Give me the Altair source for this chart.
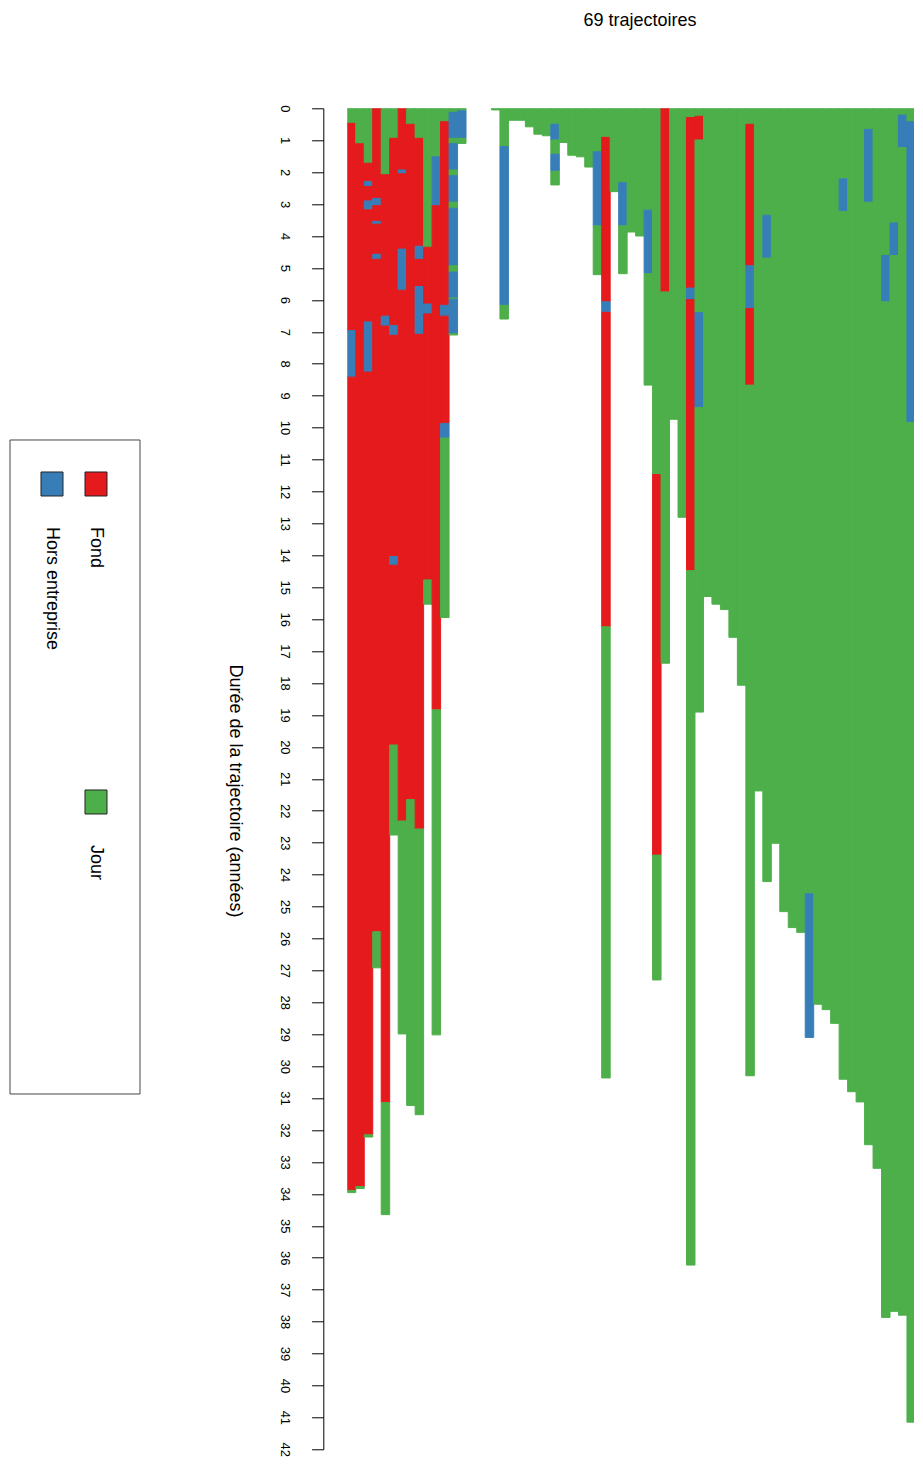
import altair as alt
import pandas as pd

FONT = "Liberation Sans"
STATES = ["Fond", "Hors entreprise", "Jour"]
COLORS = ["#E41A1C", "#377EB8", "#4DAF4A"]
CODES = {"F": "Fond", "H": "Hors entreprise", "J": "Jour"}

title_text = "69 trajectoires"
axis_title = "Durée de la trajectoire (années)"
tick_values = list(range(0, 43))

# each trajectory: successive (state, end time in years); start of first = 0
trajectories = [
    [("J", 0.47), ("F", 6.96), ("H", 8.42), ("F", 33.89), ("J", 33.96)],
    [("J", 1.11), ("F", 33.77), ("J", 33.83)],
    [("J", 1.72), ("F", 2.29), ("H", 2.45), ("F", 2.90), ("H", 3.18), ("F", 6.69), ("H", 8.26), ("F", 32.15), ("J", 32.22)],
    [("F", 2.82), ("H", 3.05), ("F", 3.54), ("H", 3.63), ("F", 4.57), ("H", 4.73), ("F", 25.79), ("J", 26.92)],
    [("J", 2.08), ("F", 6.51), ("H", 6.82), ("F", 31.14), ("J", 34.65)],
    [("J", 0.94), ("F", 6.80), ("H", 7.11), ("F", 14.04), ("H", 14.31), ("F", 19.94), ("J", 22.76)],
    [("F", 1.93), ("H", 2.05), ("F", 4.41), ("H", 5.70), ("F", 22.32), ("J", 28.99)],
    [("J", 0.50), ("F", 21.65), ("J", 31.23)],
    [("J", 0.94), ("F", 4.32), ("H", 4.73), ("F", 5.58), ("H", 7.08), ("F", 22.57), ("J", 31.52)],
    [("J", 4.35), ("F", 6.13), ("H", 6.44), ("F", 14.77), ("J", 15.53)],
    [("J", 1.52), ("H", 3.05), ("F", 18.84), ("J", 29.02)],
    [("J", 0.42), ("F", 6.17), ("H", 6.51), ("F", 9.87), ("H", 10.33), ("J", 15.95)],
    [("J", 0.125), ("H", 0.94), ("J", 1.10), ("H", 1.93), ("J", 2.11), ("H", 2.94), ("J", 3.13), ("H", 4.93), ("J", 5.13), ("H", 5.94), ("J", 5.98), ("H", 7.06), ("J", 7.10)],
    [("J", 0.08), ("H", 0.94), ("J", 1.10)],
    [],
    [],
    [],
    [("J", 0.05)],
    [("J", 1.20), ("H", 6.17), ("J", 6.60)],
    [("J", 0.375)],
    [("J", 0.375)],
    [("J", 0.58)],
    [("J", 0.81)],
    [("J", 0.86)],
    [("J", 0.50), ("H", 0.99), ("J", 1.44), ("H", 1.97), ("J", 2.40)],
    [("J", 1.07)],
    [("J", 1.47)],
    [("J", 1.52)],
    [("J", 1.84)],
    [("J", 1.36), ("H", 3.68), ("J", 5.21)],
    [("J", 0.91), ("F", 6.06), ("H", 6.39), ("F", 16.24), ("J", 30.37)],
    [("J", 2.61)],
    [("J", 2.33), ("H", 3.68), ("J", 5.18)],
    [("J", 3.875)],
    [("J", 4.00)],
    [("J", 3.19), ("H", 5.18), ("J", 8.67)],
    [("J", 11.47), ("F", 23.39), ("J", 27.30)],
    [("F", 5.75), ("J", 17.38)],
    [("J", 9.74)],
    [("J", 12.81)],
    [("J", 0.29), ("F", 5.63), ("H", 5.99), ("F", 14.48), ("J", 36.23)],
    [("J", 0.25), ("F", 0.99), ("J", 6.40), ("H", 9.37), ("J", 18.91)],
    [("J", 15.29)],
    [("J", 15.53)],
    [("J", 15.70)],
    [("J", 16.57)],
    [("J", 18.07)],
    [("J", 0.50), ("F", 4.93), ("H", 6.27), ("F", 8.67), ("J", 30.30)],
    [("J", 21.38)],
    [("J", 3.35), ("H", 4.69), ("J", 24.22)],
    [("J", 23.02)],
    [("J", 25.16)],
    [("J", 25.66)],
    [("J", 25.81)],
    [("J", 24.60), ("H", 29.10)],
    [("J", 28.06)],
    [("J", 28.23)],
    [("J", 28.66)],
    [("J", 2.21), ("H", 3.23), ("J", 30.41)],
    [("J", 30.80)],
    [("J", 31.12)],
    [("J", 0.66), ("H", 2.94), ("J", 32.46)],
    [("J", 33.20)],
    [("J", 4.61), ("H", 6.06), ("J", 37.87)],
    [("J", 3.59), ("H", 4.61), ("J", 37.68)],
    [("J", 0.21), ("H", 1.23), ("J", 37.80)],
    [("J", 0.42), ("H", 9.84), ("J", 41.15)],
    [("J", 4.73), ("H", 6.23), ("J", 41.55)],
    [("J", 41.60)],
]

rows = []
for i, traj in enumerate(trajectories):
    start = 0.0
    for code, end in traj:
        rows.append({"traj": i, "traj_end": i + 1, "start": start, "end": end,
                     "state": CODES[code]})
        start = end
df = pd.DataFrame(rows)

# layout (pixels)
COL_W = 8.48
W, H = 567, 1341
LEFT, TOP = 339.3, 100.3

x_scale = alt.Scale(domain=[0, W / COL_W], nice=False, zero=False)
y_scale = alt.Scale(domain=[0, 42], reverse=True, nice=False, zero=False)
state_scale = alt.Scale(domain=STATES, range=COLORS)

bars = alt.Chart(df).mark_rect(clip=True, strokeWidth=1).encode(
    x=alt.X("traj:Q", scale=x_scale, axis=None),
    x2="traj_end:Q",
    y=alt.Y("start:Q", scale=y_scale,
            axis=alt.Axis(values=tick_values, title=None, offset=24, tickSize=11.7,
                          labelAngle=90, labelAlign="center", labelBaseline="top",
                          labelPadding=21, labelFontSize=13, labelFont=FONT,
                          labelColor="#000000", labelOverlap=False, labelFlush=False,
                          domainColor="#000000", tickColor="#000000", grid=False)),
    y2="end:Q",
    color=alt.Color("state:N", scale=state_scale, legend=None),
    stroke=alt.Stroke("state:N", scale=state_scale, legend=None),
)

one = pd.DataFrame({"k": [0]})

title_layer = alt.Chart(one).mark_text(
    text=title_text, font=FONT, fontSize=18, align="center", baseline="middle", color="#000000"
).encode(x=alt.value(292.7), y=alt.value(-87.3))

ytitle_layer = alt.Chart(one).mark_text(
    text=axis_title, font=FONT, fontSize=18, align="center", baseline="middle",
    angle=90, color="#000000"
).encode(x=alt.value(-112.3), y=alt.value(682.7))

legend_box = alt.Chart(one).mark_rect(fill="white", stroke="#444444", strokeWidth=1).encode(
    x=alt.value(-337.3), x2=alt.value(-207.3), y=alt.value(331.7), y2=alt.value(985.7)
)

legend_pos = {
    "Fond": (-262.3, 363.7),
    "Hors entreprise": (-306.3, 363.7),
    "Jour": (-262.3, 681.7),
}
legend_layers = [legend_box]
for state, color in zip(STATES, COLORS):
    lx, ly = legend_pos[state]
    legend_layers.append(
        alt.Chart(one).mark_rect(fill=color, stroke="#222222", strokeWidth=1).encode(
            x=alt.value(lx), x2=alt.value(lx + 22), y=alt.value(ly), y2=alt.value(ly + 24)
        )
    )
    legend_layers.append(
        alt.Chart(one).mark_text(
            text=state, font=FONT, fontSize=18, align="left", baseline="middle",
            angle=90, color="#000000"
        ).encode(x=alt.value(lx + 11), y=alt.value(ly + 55))
    )

chart = alt.layer(bars, title_layer, ytitle_layer, *legend_layers).properties(
    width=W, height=H,
    autosize=alt.AutoSizeParams(type="none"),
    padding={"left": LEFT, "top": TOP, "right": 0, "bottom": 8},
).configure_view(stroke=None)

chart.save("out.html", embed_options={"renderer": "svg", "actions": False})
